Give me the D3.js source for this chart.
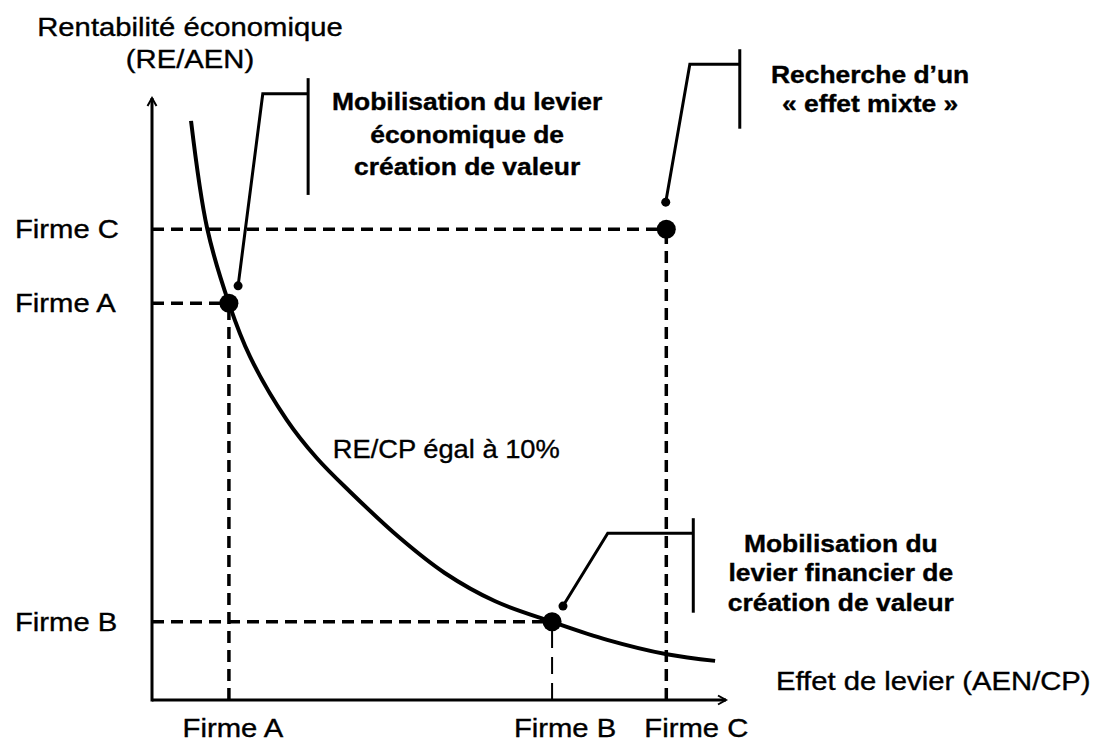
<!DOCTYPE html>
<html>
<head>
<meta charset="utf-8">
<script src="https://cdn.jsdelivr.net/npm/d3@7"></script>
<style>
    html, body { margin: 0; padding: 0; background: #fff; }
    svg { display: block; }
    text { font-family: "Liberation Sans", Arial, sans-serif; fill: #000; stroke: #000; stroke-width: 0.35px; }
</style>
</head>
<body>
<svg id="chart" width="1095" height="742"></svg>
<script>
// Values, in % of each axis length (the original has no units)
const firms = ["Firme A", "Firme B", "Firme C"];
const firmLevier = [13.4, 69.7, 89.6];
const firmRentab = [65.9, 13.0, 78.2];

// iso-RE/CP curve
const isoLevier = [6.8, 9.6, 13.4, 17.1, 23.5, 28.7, 34.5, 43.2, 51.0, 59.8, 69.7, 79.3, 89.7, 98.1];
const isoRentab = [96.2, 78.4, 65.9, 57.0, 46.5, 40.2, 34.6, 26.9, 21.1, 16.4, 13.0, 10.0, 7.6, 6.5];
const isoLabel = "RE/CP égal à 10%";

const yTitle = ["Rentabilité économique", "(RE/AEN)"];
const xTitle = "Effet de levier (AEN/CP)";

const calloutText = [
    ["Mobilisation du levier", "économique de", "création de valeur"],
    ["Recherche d’un", "« effet mixte »"],
    ["Mobilisation du", "levier financier de", "création de valeur"]
];

// callout geometry, in the same axis units
const calloutDot = [[15.0, 68.8], [89.5, 82.7], [71.6, 15.6]];
const calloutElbow = [[19.3, 100.7], [93.7, 105.6], [79.4, 27.7]];
const calloutBarX = [27.2, 102.4, 94.3];
const calloutBarY = [[103.3, 83.9], [108.1, 94.9], [30.2, 14.5]];
const calloutTextAt = [[54.9, 98.0], [125.1, 102.5], [120.0, 24.6]];

const svg = d3.select("#chart");

const x = d3.scaleLinear().domain([0, 100]).range([152, 726]);
const y = d3.scaleLinear().domain([0, 100]).range([700, 98]);

// text with a slight horizontal stretch, like the original
function stretchedText(parent, px, py, lines, o) {
    const g = parent.append("g")
        .attr("transform", `translate(${px},${py}) scale(${o.sx},1)`);
    g.selectAll("text")
        .data(lines)
        .join("text")
        .attr("x", 0)
        .attr("y", (d, i) => i * (o.lh || 0))
        .attr("text-anchor", o.anchor || "start")
        .style("font-size", o.size + "px")
        .style("font-weight", o.weight || "normal")
        .text(d => d);
}

const firmData = firms.map((f, i) => ({ name: f, lev: firmLevier[i], re: firmRentab[i] }));

// dashed guides
const guides = svg.append("g").attr("fill", "none").attr("stroke", "#000");

guides.selectAll("line.h")
    .data(firmData)
    .join("line")
    .attr("class", "h")
    .attr("x1", x(0)).attr("x2", d => x(d.lev))
    .attr("y1", d => y(d.re)).attr("y2", d => y(d.re))
    .attr("stroke-width", 3.5)
    .attr("stroke-dasharray", "12,7");

guides.selectAll("line.v")
    .data(firmData)
    .join("line")
    .attr("class", "v")
    .attr("x1", d => x(d.lev)).attr("x2", d => x(d.lev))
    .attr("y1", y(0)).attr("y2", d => y(d.re))
    .attr("stroke-width", d => d.name === "Firme B" ? 2 : 3.5)
    .attr("stroke-dasharray", d => d.name === "Firme B" ? "17,9" : "12,7");

// axes
const axes = svg.append("g").attr("fill", "none").attr("stroke", "#000").attr("stroke-width", 3);
axes.append("line").attr("x1", x(0)).attr("x2", x(0)).attr("y1", y(0) + 1.5).attr("y2", y(100));
axes.append("line").attr("x1", x(0)).attr("x2", x(100)).attr("y1", y(0)).attr("y2", y(0));
axes.append("path")
    .attr("stroke-width", 2)
    .attr("d", `M${x(0) - 4.5},${y(100) + 8}L${x(0)},${y(100)}L${x(0) + 4.5},${y(100) + 8}`);
axes.append("path")
    .attr("stroke-width", 2)
    .attr("d", `M${x(100) - 8},${y(0) - 4.5}L${x(100)},${y(0)}L${x(100) - 8},${y(0) + 4.5}`);

// curve
const line = d3.line()
    .x(d => x(d[0]))
    .y(d => y(d[1]))
    .curve(d3.curveCatmullRom.alpha(0.5));

svg.append("path")
    .datum(isoLevier.map((v, i) => [v, isoRentab[i]]))
    .attr("fill", "none")
    .attr("stroke", "#000")
    .attr("stroke-width", 4)
    .attr("stroke-linecap", "butt")
    .attr("d", line);

// firms
svg.append("g")
    .selectAll("circle")
    .data(firmData)
    .join("circle")
    .attr("cx", d => x(d.lev))
    .attr("cy", d => y(d.re))
    .attr("r", 9.5)
    .attr("fill", "#000");

// callouts
const callouts = svg.append("g");
calloutText.forEach((lines, i) => {
    const g = callouts.append("g");
    g.append("path")
        .attr("fill", "none")
        .attr("stroke", "#000")
        .attr("stroke-width", 3)
        .attr("d", d3.line()([
            [x(calloutDot[i][0]), y(calloutDot[i][1])],
            [x(calloutElbow[i][0]), y(calloutElbow[i][1])],
            [x(calloutBarX[i]), y(calloutElbow[i][1])]
        ]));
    g.append("line")
        .attr("stroke", "#000")
        .attr("stroke-width", 3)
        .attr("x1", x(calloutBarX[i])).attr("x2", x(calloutBarX[i]))
        .attr("y1", y(calloutBarY[i][0])).attr("y2", y(calloutBarY[i][1]));
    g.append("circle")
        .attr("cx", x(calloutDot[i][0]))
        .attr("cy", y(calloutDot[i][1]))
        .attr("r", 4.5)
        .attr("fill", "#000");
    stretchedText(g, x(calloutTextAt[i][0]), y(calloutTextAt[i][1]), lines,
        { size: 23, sx: 1.15, lh: i === 0 ? 32.5 : 29.5, anchor: "middle", weight: "bold" });
});

// labels
const labels = svg.append("g");
const labelOpt = { size: 25, sx: 1.17, lh: 32 };

stretchedText(labels, 190, 36, yTitle, Object.assign({ anchor: "middle" }, labelOpt));
stretchedText(labels, 776, 690, [xTitle], labelOpt);

firmData.forEach(d => {
    stretchedText(labels, 15, y(d.re) + 9, [d.name], labelOpt);
});

const xLabelShift = [4, 13, 30];
firmData.forEach((d, i) => {
    stretchedText(labels, x(d.lev) + xLabelShift[i], 737, [d.name], Object.assign({ anchor: "middle" }, labelOpt));
});

stretchedText(labels, x(31.5), y(40.2), [isoLabel], { size: 26, sx: 1.05 });
</script>
</body>
</html>
